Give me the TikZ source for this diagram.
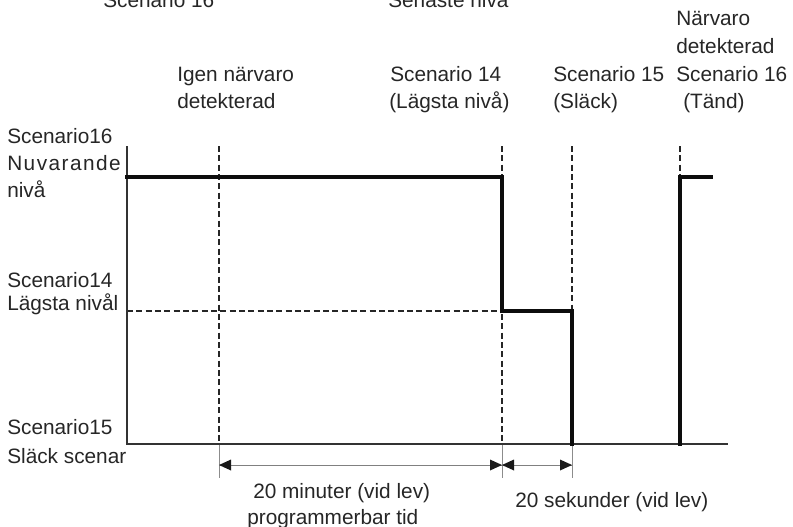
\documentclass[tikz,border=0pt]{standalone}
\usepackage{fontspec}
\setmainfont{Liberation Sans}
\usetikzlibrary{arrows.meta}
\begin{document}
\begin{tikzpicture}[x=0.75pt,y=-0.75pt,
  lbl/.style={anchor=base west,inner sep=0pt,font=\fontsize{15.6pt}{19pt}\selectfont,text=black!85},
  axis/.style={line width=1.4pt,draw=black!80},
  sig/.style={line width=3pt,draw=black!95,line cap=rect},
  guide/.style={line width=0.8pt,draw=black!85,dash pattern=on 4.5pt off 2.5pt},
  ext/.style={line width=0.5pt,draw=black!45},
  dim/.style={line width=0.6pt,draw=black!50}]
\useasboundingbox (0,0) rectangle (793,526);
% key coordinates
\coordinate (o) at (127,444);
\coordinate (top) at (127,146);
\coordinate (xend) at (728,444);
\coordinate (a1) at (219,146);
\coordinate (a2) at (219,478);
\coordinate (b1) at (502,146);
\coordinate (b2) at (502,478);
\coordinate (c1) at (572,146);
\coordinate (c2) at (572,478);
\coordinate (d1) at (680,146);
\coordinate (lvl) at (127,311);
\coordinate (s0) at (127,177);
\coordinate (s1) at (502,177);
\coordinate (s2) at (502,311);
\coordinate (s3) at (572,311);
\coordinate (s4) at (572,444);
\coordinate (t0) at (680,444);
\coordinate (t1) at (680,177);
\coordinate (t2) at (711,177);
\coordinate (m1) at (219,465);
\coordinate (m2) at (502,465);
\coordinate (m3) at (572,465);
% guide lines
\draw[guide] (a1) -- (219,444);
\draw[guide] (b1) -- (502,444);
\draw[guide] (c1) -- (572,311);
\draw[guide] (d1) -- (680,177);
\draw[guide] (lvl) -- (s2);
\draw[ext] (219,444) -- (a2);
\draw[ext] (502,444) -- (b2);
\draw[ext] (572,444) -- (c2);
% axes
\draw[axis] (top) -- (o) -- (xend);
% signal
\draw[sig] (s0) -- (s1) -- (s2) -- (s3) -- (s4);
\draw[sig] (t0) -- (t1) -- (t2);
% dimension arrows
\draw[dim] (m1) -- (m2);
\draw[dim] (m2) -- (m3);
\fill[black!90] (219,465) -- (231,459.5) -- (231,470.5) -- cycle;
\fill[black!90] (502,465) -- (490,459.5) -- (490,470.5) -- cycle;
\fill[black!90] (502,465) -- (514,459.5) -- (514,470.5) -- cycle;
\fill[black!90] (572,465) -- (560,459.5) -- (560,470.5) -- cycle;
% top labels
\node[lbl] (l1) at (103,7) {Scenario 16};
\node[lbl] (l2) at (388,7) {Senaste nivå};
\node[lbl] (l3) at (177,81) {Igen närvaro};
\node[lbl] (l4) at (177,108) {detekterad};
\node[lbl] (l5) at (390,81) {Scenario 14};
\node[lbl] (l6) at (389,108) {(Lägsta nivå)};
\node[lbl] (l7) at (553,81) {Scenario 15};
\node[lbl] (l8) at (553,108) {(Släck)};
\node[lbl] (l9) at (676,25) {Närvaro};
\node[lbl] (l10) at (676,53) {detekterad};
\node[lbl] (l11) at (676,81) {Scenario 16};
\node[lbl] (l12) at (683,108) {(Tänd)};
% left labels
\node[lbl] (y1) at (7,143) {Scenario16};
\node[lbl] (y2) at (7,170) {\addfontfeature{LetterSpace=7}Nuvarande};
\node[lbl] (y3) at (7,197) {nivå};
\node[lbl] (y4) at (7,287) {Scenario14};
\node[lbl] (y5) at (7,310) {Lägsta nivål};
\node[lbl] (y6) at (7,434) {Scenario15};
\node[lbl] (y7) at (7,463) {Släck scenar};
% bottom labels
\node[lbl] (b1t) at (253,498) {20 minuter (vid lev)};
\node[lbl] (b2t) at (247,524) {programmerbar tid};
\node[lbl] (b3t) at (515,507) {20 sekunder (vid lev)};
\end{tikzpicture}
\end{document}
